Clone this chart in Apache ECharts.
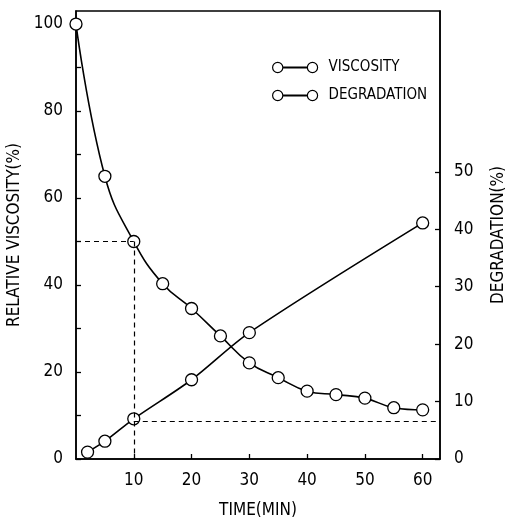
<!DOCTYPE html>
<html><head><meta charset="utf-8">
<script src="https://cdn.jsdelivr.net/npm/echarts@6/dist/echarts.min.js"></script>
<style>html,body{margin:0;padding:0;background:#fff}#c{width:508px;height:522px}</style>
</head><body><div id="c"></div>
<script>
// ---- data ----
const viscTime = [0, 5, 10, 15, 20, 25, 30, 35, 40, 45, 50, 55, 60];
const viscValues = [100, 65, 50, 40.3, 34.6, 28.3, 22.1, 18.7, 15.6, 14.8, 14.0, 11.8, 11.3];
const degTime = [2, 5, 10, 20, 30, 60];
const degValues = [1.2, 3.1, 7.0, 13.8, 22.0, 41.1];
const xTicks = [10, 20, 30, 40, 50, 60];
const leftTicks = [0, 20, 40, 60, 80, 100];
const leftMinorTicks = [0, 10, 20, 30, 40, 50, 60, 70, 80, 90, 100];
const rightTicks = [0, 10, 20, 30, 40, 50];
// guide lines (data units)
const viscGuide = [[0, 50], [10, 50], [10, 0]];
const degGuide = [[10, 6.6], [63, 6.6]];

const FONT = 'DejaVu Sans Condensed, DejaVu Sans, sans-serif';
const legendIcon = 'path://M0.5,5.5 A5,5 0 1,1 10.5,5.5 A5,5 0 1,1 0.5,5.5 Z M10.5,5.2 L34.5,5.2 L34.5,5.8 L10.5,5.8 Z M34.5,5.5 A5,5 0 1,1 44.5,5.5 A5,5 0 1,1 34.5,5.5 Z';

const chart = echarts.init(document.getElementById('c'), null, {renderer: 'canvas'});
const dash = {type: [5, 4], color: '#000', width: 1.2};
chart.setOption({
  animation: false,
  backgroundColor: '#fff',
  textStyle: {fontFamily: FONT, color: '#000'},
  grid: {left: 76, right: 68, top: 11, bottom: 63, show: true, borderColor: '#000', borderWidth: 1.5,
         containLabel: false, outerBoundsMode: 'none'},
  legend: {
    orient: 'vertical', left: 267, top: 55, itemWidth: 45, itemHeight: 11, itemGap: 13,
    data: [{name: 'VISCOSITY', icon: legendIcon}, {name: 'DEGRADATION', icon: legendIcon}],
    itemStyle: {color: '#fff', borderColor: '#000', borderWidth: 1.2},
    textStyle: {fontFamily: FONT, fontSize: 15, color: '#000', padding: [0, 0, 0, 6]}
  },
  xAxis: {
    type: 'value', min: 0, max: 63, interval: 10,
    name: 'TIME(MIN)', nameLocation: 'middle', nameGap: 43,
    nameTextStyle: {fontFamily: FONT, fontSize: 17, color: '#000'},
    axisLine: {show: true, lineStyle: {color: '#000', width: 1.5}},
    axisTick: {show: true, inside: true, length: 5, lineStyle: {color: '#000', width: 1.3}, customValues: xTicks},
    axisLabel: {fontFamily: FONT, fontSize: 17, color: '#000', margin: 13, customValues: xTicks},
    splitLine: {show: false}
  },
  yAxis: [{
    type: 'value', min: 0, max: 103, interval: 10, position: 'left',
    name: 'RELATIVE VISCOSITY(%)', nameLocation: 'middle', nameGap: 50, nameRotate: 90,
    nameTextStyle: {fontFamily: FONT, fontSize: 17, color: '#000'},
    axisLine: {show: true, lineStyle: {color: '#000', width: 1.5}},
    axisTick: {show: true, inside: true, length: 5, lineStyle: {color: '#000', width: 1.3}, customValues: leftMinorTicks},
    axisLabel: {fontFamily: FONT, fontSize: 17, color: '#000', margin: 13, customValues: leftTicks},
    splitLine: {show: false}
  }, {
    type: 'value', min: 0, max: 78, interval: 10, position: 'right',
    name: 'DEGRADATION(%)', nameLocation: 'middle', nameGap: 50, nameRotate: 90,
    nameTextStyle: {fontFamily: FONT, fontSize: 17, color: '#000'},
    axisLine: {show: true, lineStyle: {color: '#000', width: 1.5}},
    axisTick: {show: true, inside: true, length: 5, lineStyle: {color: '#000', width: 1.3}, customValues: rightTicks},
    axisLabel: {fontFamily: FONT, fontSize: 17, color: '#000', margin: 14, customValues: rightTicks},
    splitLine: {show: false}
  }],
  series: [{
    name: 'VISCOSITY', type: 'line', yAxisIndex: 0, smooth: 0.45,
    data: viscTime.map((t, i) => [t, viscValues[i]]),
    symbol: 'circle', symbolSize: 12, showAllSymbol: true,
    itemStyle: {color: '#fff', borderColor: '#000', borderWidth: 1.3},
    lineStyle: {color: '#000', width: 1.6},
    markLine: {
      silent: true, symbol: 'none', label: {show: false}, lineStyle: dash,
      data: [[{coord: viscGuide[0]}, {coord: viscGuide[1]}], [{coord: viscGuide[1]}, {coord: viscGuide[2]}]]
    },
    z: 3
  }, {
    name: 'DEGRADATION', type: 'line', yAxisIndex: 1, smooth: 0.3,
    data: degTime.map((t, i) => [t, degValues[i]]),
    symbol: 'circle', symbolSize: 12, showAllSymbol: true,
    itemStyle: {color: '#fff', borderColor: '#000', borderWidth: 1.3},
    lineStyle: {color: '#000', width: 1.6},
    markLine: {
      silent: true, symbol: 'none', label: {show: false}, lineStyle: dash,
      data: [[{coord: degGuide[0]}, {coord: degGuide[1]}]]
    },
    z: 3
  }]
});
</script></body></html>
